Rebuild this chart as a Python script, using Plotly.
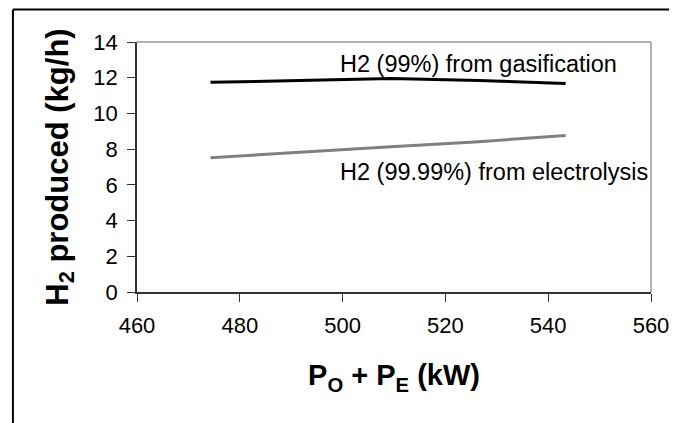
import plotly.graph_objects as go

# Data
power_kw = [474.3, 491.8, 509.4, 526.5, 543.4]
h2_gasification = [11.74, 11.84, 11.95, 11.85, 11.67]
h2_electrolysis = [7.52, 7.85, 8.14, 8.42, 8.77]

x_ticks = [460, 480, 500, 520, 540, 560]
y_ticks = [0, 2, 4, 6, 8, 10, 12, 14]

label_gas = "H2 (99%) from gasification"
label_elec = "H2 (99.99%) from electrolysis"

FONT = "Liberation Sans, Arial, sans-serif"

fig = go.Figure()
fig.add_trace(go.Scatter(x=power_kw, y=h2_gasification, mode="lines",
                         line=dict(color="#000000", width=3), name=label_gas))
fig.add_trace(go.Scatter(x=power_kw, y=h2_electrolysis, mode="lines",
                         line=dict(color="#808080", width=3), name=label_elec))

# page body has an 8px default margin, so the figure is offset by 8px
OFF = 8
W, H = 677, 423
L = 136.5 - OFF
T = 41.7 - OFF
R = W - (651 - OFF)
B = H - (292.3 - OFF)
pw = W - L - R
ph = H - T - B

fx = (12.3 - OFF - L) / pw          # outer frame left edge (paper)
fy = (ph + T - 1) / ph               # outer frame top edge (paper), at figure top

fig.update_layout(
    width=W, height=H,
    margin=dict(l=L, r=R, t=T, b=B, pad=0),
    paper_bgcolor="white", plot_bgcolor="white",
    showlegend=False,
    font=dict(family=FONT, color="#000000"),
    xaxis=dict(
        range=[460, 560], tickvals=x_ticks, ticks="outside", ticklen=8,
        tickwidth=1, tickcolor="#333333", showgrid=False, zeroline=False,
        showline=True, linecolor="#333333", linewidth=1.5,
        tickfont=dict(size=22, family=FONT), ticklabelstandoff=5,
        title=dict(text="<b>P<sub>O</sub> + P<sub>E</sub> (kW)</b>",
                   font=dict(size=29, family=FONT), standoff=28),
    ),
    yaxis=dict(
        range=[0, 14], tickvals=y_ticks, ticks="outside", ticklen=8,
        tickwidth=1, tickcolor="#333333", showgrid=False, zeroline=False,
        showline=True, linecolor="#333333", linewidth=1.5,
        tickfont=dict(size=22, family=FONT), ticklabelstandoff=5,
        title=dict(text="<b>H<sub>2</sub> produced (kg/h)</b>",
                   font=dict(size=31, family=FONT), standoff=16),
    ),
    shapes=[
        # plot-area border (top and right)
        dict(type="line", xref="paper", yref="paper", x0=0, x1=1, y0=1, y1=1,
             line=dict(color="#999999", width=1.5)),
        dict(type="line", xref="paper", yref="paper", x0=1, x1=1, y0=0, y1=1,
             line=dict(color="#999999", width=1.5)),
        # outer chart frame (left and top visible)
        dict(type="line", xref="paper", yref="paper",
             x0=fx, x1=fx, y0=fy, y1=-(B + 20) / ph,
             line=dict(color="#000000", width=2)),
        dict(type="line", xref="paper", yref="paper",
             x0=fx, x1=(W + 20 - L) / pw, y0=fy, y1=fy,
             line=dict(color="#000000", width=2)),
    ],
    annotations=[
        dict(x=499.1, y=12.79, xref="x", yref="y", text=label_gas,
             showarrow=False, xanchor="left", yanchor="middle",
             font=dict(size=23.5, family=FONT)),
        dict(x=499.1, y=6.74, xref="x", yref="y", text=label_elec,
             showarrow=False, xanchor="left", yanchor="middle",
             font=dict(size=23.5, family=FONT)),
    ],
)

fig.write_html("out.html")
